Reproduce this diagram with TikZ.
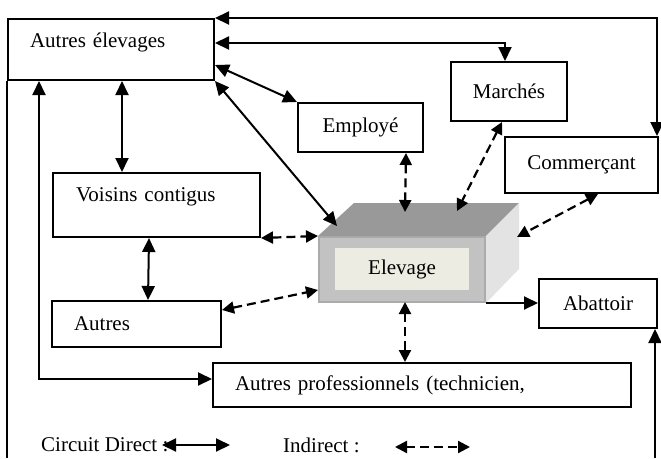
\documentclass[tikz,border=0pt]{standalone}
\usepackage{fontspec}
\setmainfont{Liberation Serif}
\usetikzlibrary{arrows.meta, calc, positioning}
\definecolor{labelbg}{HTML}{ECECE2}

\begin{document}
\begin{tikzpicture}[
    x=1pt, y=-1pt,
    >={Triangle[length=14pt,width=13pt]},
    font=\fontsize{21}{25}\selectfont,
    box/.style={draw, line width=2pt, inner sep=0pt},
    leftbox/.style={box, align=left, inner xsep=22pt},
    direct/.style={<->, line width=2pt},
    indirect/.style={<->, line width=2.2pt, dash pattern=on 9pt off 5pt, >={Triangle[length=12pt,width=12pt]}}
]
\useasboundingbox (0,0) rectangle (661,458);
\coordinate (botL) at (9,458);
\coordinate (botR) at (655,458);

\node[leftbox, minimum width=206pt, minimum height=61pt, text width=162pt, text depth=19pt] (AE) at (111,49.5) {Autres élevages};
\node[box, minimum width=116pt, minimum height=59pt] (Mar) at (509,91.5) {Marchés};
\node[box, minimum width=125pt, minimum height=49pt] (Emp) at (360.5,127.5) {Employé};
\node[box, minimum width=153pt, minimum height=56pt] (Com) at (581.5,165) {Commerçant};
\node[leftbox, minimum width=207pt, minimum height=64pt, text width=161pt, text depth=21pt] (Voi) at (156.5,205) {Voisins contigus};
\node[leftbox, minimum width=167pt, minimum height=46pt, text width=125pt] (Aut) at (136.5,324) {Autres};
\node[leftbox, minimum width=418pt, minimum height=44pt, text width=374pt] (AP) at (422,385) {Autres professionnels (technicien,};
\node[box, minimum width=118pt, minimum height=49pt] (Ab) at (598,303.5) {Abattoir};

\node[draw=black!33, line width=2pt, fill=black!24, minimum width=166pt, minimum height=65pt] (face) at (402,269.5) {};
\fill[black!40] (face.north west) -- (face.north east) -- ++(33,-33) -- ++(-165,0) -- cycle;
\fill[black!11] (face.north east) -- ++(33,-33) -- ++(0,66) -- (face.south east) -- cycle;
\node[fill=labelbg, minimum width=134pt, minimum height=42pt, inner sep=0pt] (Elev) at (402,269) {Elevage};

\coordinate (eAE) at (337,226);
\coordinate (eEmp) at (405,212);
\coordinate (eMar) at (457,211);
\coordinate (eCom) at (517,237);
\coordinate (eAut) at (318,290);
\coordinate (eAP) at (405,302);

\draw[direct] (AE.north east) -| ([xshift=-2pt]Com.north east);
\draw[direct] ([yshift=6.5pt]AE.east) -| ([xshift=-4pt]Mar.north);
\draw[direct] ([yshift=-15.5pt]AE.east) -- (Emp.north west);
\draw[direct] (AE.south east) -- (eAE);
\draw[direct] ([xshift=115pt]AE.south west) -- ([xshift=70pt]Voi.north west);
\draw[direct] ([xshift=32pt]AE.south west) |- ([yshift=6pt]AP.west);
\draw[line width=2pt] (AE.south west) -- (AE.south west |- botL);
\draw[->, line width=2pt] (botR) -- (botR |- Ab.south);
\draw[direct] ([xshift=97pt]Voi.south west) -- ([xshift=97pt]Aut.north west);

\draw[indirect] (Voi.south east) -- (face.north west);
\draw[indirect] ([yshift=14pt]Aut.east) -- (eAut);
\draw[indirect] ([xshift=-18pt]Emp.south east) -- (eEmp);
\draw[indirect] ([xshift=-7pt]Mar.south) -- (eMar);
\draw[indirect] ([xshift=16.5pt]Com.south) -- (eCom);
\draw[->, line width=2pt] (face.south east) -- (face.south east -| Ab.west);
\draw[indirect] (eAP) -- (eAP |- AP.north);

\node[anchor=west, inner sep=0pt] (dir) at (41,445) {Circuit Direct :};
\coordinate (d1) at (162,445);
\coordinate (d2) at (230,445);
\draw[direct] (d1) -- (d2);
\node[anchor=west, inner sep=0pt] (ind) at (283,445) {Indirect :};
\coordinate (i1) at (395,447);
\coordinate (i2) at (470,447);
\draw[indirect] (i1) -- (i2);
\end{tikzpicture}
\end{document}
